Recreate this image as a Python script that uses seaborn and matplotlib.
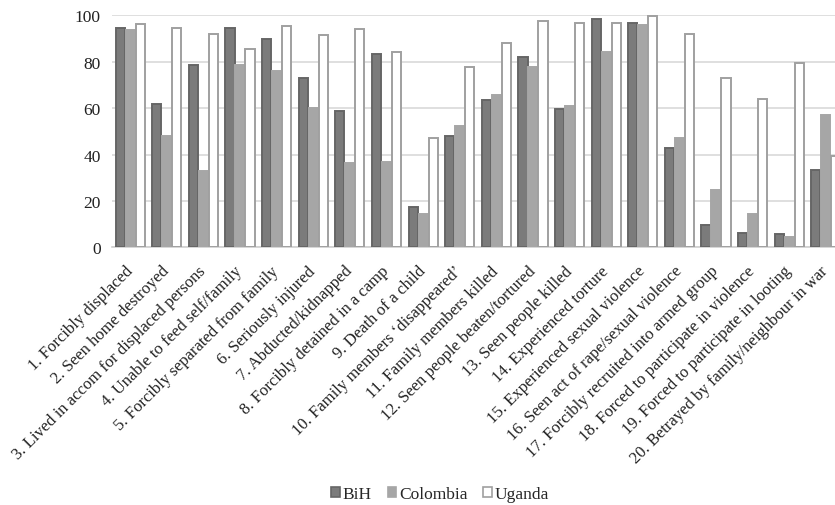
import matplotlib
matplotlib.use("Agg")
import matplotlib.pyplot as plt
import seaborn as sns
import pandas as pd
from matplotlib.patches import Patch

categories = [
    "1. Forcibly displaced",
    "2. Seen home destroyed",
    "3. Lived in accom for displaced persons",
    "4. Unable to feed self/family",
    "5. Forcibly separated from family",
    "6. Seriously injured",
    "7. Abducted/kidnapped",
    "8. Forcibly detained in a camp",
    "9. Death of a child",
    "10. Family members \u2018disappeared\u2019",
    "11. Family members killed",
    "12. Seen people beaten/tortured",
    "13. Seen people killed",
    "14. Experienced torture",
    "15. Experienced sexual violence",
    "16. Seen act of rape/sexual violence",
    "17. Forcibly recruited into armed group",
    "18. Forced to participate in violence",
    "19. Forced to participate in looting",
    "20. Betrayed by family/neighbour in war",
]
bih = [94.4, 61.8, 78.6, 94.4, 89.7, 73.0, 58.8, 83.5, 17.5, 47.8,
       63.5, 81.8, 59.7, 98.4, 96.7, 42.9, 9.6, 6.4, 5.6, 33.4]
colombia = [93.8, 47.8, 33.0, 78.6, 75.9, 60.1, 36.2, 36.6, 14.3, 52.5,
            65.7, 77.6, 61.1, 84.1, 95.7, 47.0, 24.8, 14.3, 4.4, 57.1]
uganda = [96.0, 94.5, 92.0, 85.4, 95.3, 91.5, 94.0, 84.2, 47.3, 77.5,
          88.1, 97.3, 96.7, 96.6, 99.7, 92.0, 73.0, 63.8, 79.6, 39.4]
series = ["BiH", "Colombia", "Uganda"]
yticks = [0, 20, 40, 60, 80, 100]

rows = []
for name, vals in zip(series, [bih, colombia, uganda]):
    for c, v in zip(categories, vals):
        rows.append({"cat": c, "country": name, "value": v})
df = pd.DataFrame(rows)

sns.set_theme(style="white")
plt.rcParams["font.family"] = ["Liberation Serif", "DejaVu Serif"]

fills = {"BiH": "#7b7b7b", "Colombia": "#a6a6a6", "Uganda": "#ffffff"}
edges = {"BiH": "#666666", "Colombia": "#a6a6a6", "Uganda": "#a0a0a0"}

fig = plt.figure(figsize=(8.35, 5.06), dpi=100)
ax = fig.add_axes([0.134, 0.509, 0.877, 0.459])
sns.barplot(data=df, x="cat", y="value", hue="country", order=categories,
            hue_order=series, palette=fills, width=0.82, gap=0.08,
            legend=False, ax=ax, zorder=3)
for cont, name in zip(ax.containers, series):
    for p in cont:
        p.set_edgecolor(edges[name])
        p.set_linewidth(1.4)

ax.set_ylim(0, 100)
ax.set_xlim(-0.5, len(categories) - 0.5)
ax.set_yticks(yticks)
ax.set_yticklabels([str(t) for t in yticks], fontsize=12.5, color="#222222")
ax.yaxis.grid(True, color="#d9d9d9", linewidth=1.2, zorder=0)
ax.set_axisbelow(True)
for s in ["top", "right", "left"]:
    ax.spines[s].set_visible(False)
ax.spines["bottom"].set_color("#d0d0d0")
ax.spines["bottom"].set_linewidth(1.2)
ax.tick_params(axis="both", length=0, pad=8)
ax.set_xticks(range(len(categories)))
ax.set_xticklabels(categories, rotation=45, ha="right", va="center",
                   rotation_mode="anchor", fontsize=12, color="#222222")
ax.tick_params(axis="x", pad=15)
ax.set_xlabel("")
ax.set_ylabel("")

handles = [Patch(facecolor=fills[s], edgecolor=edges[s], linewidth=1.2, label=s) for s in series]
fig.legend(handles=handles, loc="center", bbox_to_anchor=(0.527, 0.022), ncol=3,
           frameon=False, fontsize=12.5, handlelength=0.5, handleheight=0.5,
           handletextpad=0.15, columnspacing=0.9)

fig.savefig("out.png", dpi=100)
